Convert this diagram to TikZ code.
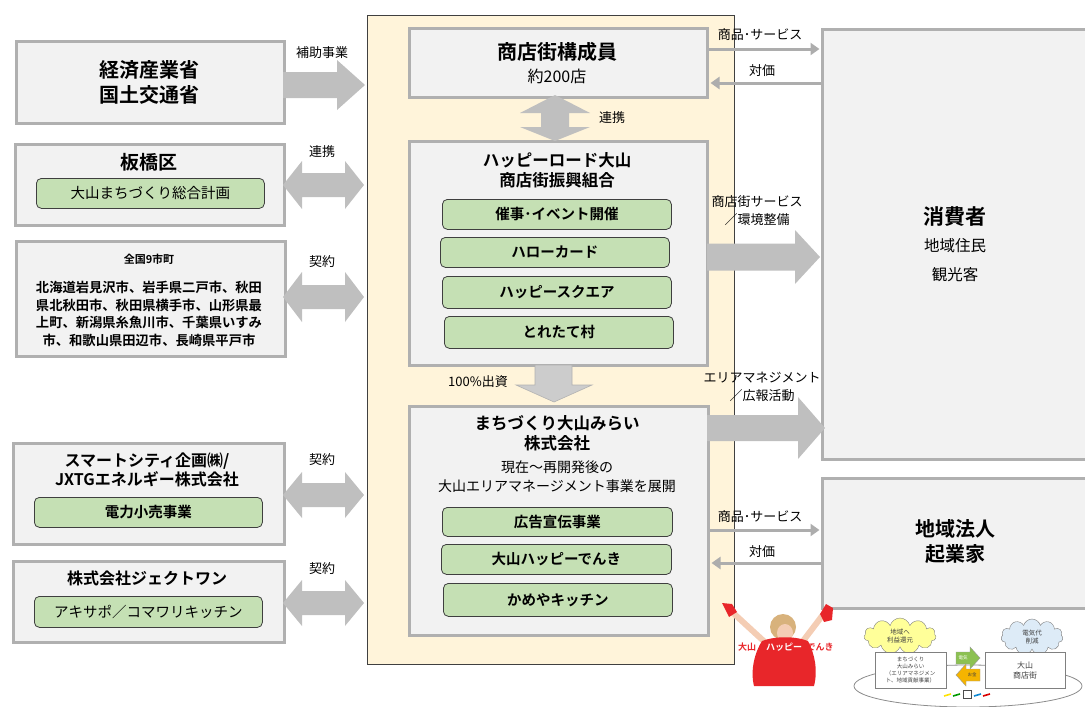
\documentclass[tikz,border=0pt]{standalone}
\usepackage{fontspec}
\setmainfont{Noto Sans CJK JP}[BoldFont={Noto Sans CJK JP Bold}]
\usetikzlibrary{arrows.meta,shapes.symbols,calc}

\definecolor{boxfill}{HTML}{F2F2F2}
\definecolor{boxline}{HTML}{B0B0B0}
\definecolor{cream}{HTML}{FFF4DA}
\definecolor{creamline}{HTML}{404040}
\definecolor{greenfill}{HTML}{C5E0B4}
\definecolor{greenline}{HTML}{3F3F3F}
\definecolor{arrowgray}{HTML}{BFBFBF}
\definecolor{linegray}{HTML}{ADADAD}
\definecolor{happyred}{HTML}{E8262A}
\definecolor{skin}{HTML}{F4CDB4}
\definecolor{hair}{HTML}{D8B27C}
\definecolor{cloudyellow}{HTML}{FFFF99}
\definecolor{cloudblue}{HTML}{DDEBF7}
\definecolor{elecgreen}{HTML}{8CC152}
\definecolor{moneyorange}{HTML}{F5B400}

% box from its top-left corner (x1,y1) to its bottom-right corner (x2,y2)
\newcommand{\cornerbox}[7]{%
  \node[#1, anchor=north west, minimum width={#5pt-#3pt}, minimum height={#6pt-#4pt}] (#2) at (#3,#4) {#7};}
% right-pointing block arrow: tail x, head base x, tip x, centre y, shaft half, head half
\newcommand{\rblock}[6]{%
  \fill[blockarrow] (#1,#4-#5) -- (#2,#4-#5) -- (#2,#4-#6) -- (#3,#4) -- (#2,#4+#6) -- (#2,#4+#5) -- (#1,#4+#5) -- cycle;}
% two-headed horizontal block arrow: left tip, left base, right base, right tip, y, shaft half, head half
\newcommand{\hdblock}[7]{%
  \fill[blockarrow] (#1,#5) -- (#2,#5-#7) -- (#2,#5-#6) -- (#3,#5-#6) -- (#3,#5-#7) -- (#4,#5)
    -- (#3,#5+#7) -- (#3,#5+#6) -- (#2,#5+#6) -- (#2,#5+#7) -- cycle;}

\tikzset{
  graybox/.style={draw=boxline, line width=3pt, fill=boxfill, inner sep=0pt},
  greenbox/.style={draw=greenline, line width=0.8pt, fill=greenfill, rounded corners=5pt,
    inner sep=0pt, font=\fontsize{14.5}{16}\selectfont\bfseries},
  greenreg/.style={greenbox, font=\fontsize{14.5}{16}\selectfont},
  bigtitle/.style={align=center, inner sep=0pt, font=\fontsize{20}{25}\selectfont\bfseries},
  midtitle/.style={align=center, inner sep=0pt, font=\fontsize{16.5}{20}\selectfont\bfseries},
  bodytext/.style={align=center, inner sep=0pt, font=\fontsize{15.5}{20}\selectfont},
  label/.style={align=center, inner sep=0pt, font=\fontsize{13}{18}\selectfont},
  blockarrow/.style={fill=arrowgray},
  thinarrow/.style={draw=linegray, line width=3pt, -{Triangle[length=9pt,width=12pt]}},
  tiny/.style={align=center, inner sep=0pt, font=\fontsize{6.5}{7.5}\selectfont, text=black!75},
}

\begin{document}
\begin{tikzpicture}[x=1pt, y=-1pt]
\useasboundingbox (0,0) rectangle (1085,707);

% ---------- central organisation panel ----------
\cornerbox{draw=creamline, line width=1.2pt, fill=cream, inner sep=0pt}{panel}{367}{15}{734}{664}{}

\cornerbox{graybox}{members}{408}{27}{706}{96}{}
\node[bigtitle] (membersT) at (557,52) {商店街構成員};
\node[bodytext, font=\fontsize{16}{20}\selectfont] (membersN) at (557,76) {約200店};

\cornerbox{graybox}{union}{408}{140}{706}{364}{}
\node[midtitle] (unionT) at (557,170) {ハッピーロード大山\\商店街振興組合};
\cornerbox{greenbox}{u1}{442}{199}{671}{229}{催事･イベント開催}
\cornerbox{greenbox}{u2}{440}{237}{669}{267}{ハローカード}
\cornerbox{greenbox}{u3}{442}{276}{671}{308}{ハッピースクエア}
\cornerbox{greenbox}{u4}{444}{316}{673}{348}{とれたて村}

\cornerbox{graybox}{mirai}{408}{405}{707}{634}{}
\node[midtitle] (miraiT) at (557,433) {まちづくり大山みらい\\株式会社};
\node[bodytext, font=\fontsize{14}{19}\selectfont] (miraiD) at (557,477) {現在〜再開発後の\\大山エリアマネージメント事業を展開};
\cornerbox{greenbox}{m1}{442}{507}{672}{536}{広告宣伝事業}
\cornerbox{greenbox}{m2}{441}{544}{671}{574}{大山ハッピーでんき}
\cornerbox{greenbox}{m3}{443}{583}{672}{616}{かめやキッチン}

% link between members and union
\fill[blockarrow] (555,95) -- (590,113) -- (569,113) -- (569,127) -- (590,127) -- (555,141)
  -- (520,127) -- (541,127) -- (541,113) -- (520,113) -- cycle;
\node[label] (linkC) at (612,118) {連携};

% investment arrow from union down to mirai
\filldraw[fill=black!20, draw=black!30, line width=0.6pt] (535,365) -- (572,365) -- (572,385) -- (592,385)
  -- (554,402) -- (516,385) -- (535,385) -- cycle;
\node[label] (invest) at (478,382) {100\%出資};

% ---------- left-hand partners ----------
\cornerbox{graybox}{gov}{15}{40}{283}{122}{}
\node[bigtitle] (govT) at (149,82) {経済産業省\\国土交通省};

\cornerbox{graybox}{itabashi}{14}{143}{283}{224}{}
\node[bigtitle, font=\fontsize{19}{22}\selectfont\bfseries] (itaT) at (149,162) {板橋区};
\cornerbox{greenreg}{plan}{36}{178}{264}{208}{大山まちづくり総合計画}

\cornerbox{graybox}{towns}{15}{240}{284}{355}{}
\node[label, font=\fontsize{11}{13}\selectfont\bfseries] (townsT) at (149,259) {全国9市町};
\node[label, font=\fontsize{13.3}{17.8}\selectfont\bfseries] (townsL) at (149,314)
  {北海道岩見沢市、岩手県二戸市、秋田\\県北秋田市、秋田県横手市、山形県最\\上町、新潟県糸魚川市、千葉県いすみ\\市、和歌山県田辺市、長崎県平戸市};

\cornerbox{graybox}{smart}{12}{442}{283}{543}{}
\node[midtitle, font=\fontsize{16}{19.5}\selectfont\bfseries] (smartT) at (147,470) {スマートシティ企画㈱/\\JXTGエネルギー株式会社};
\cornerbox{greenbox}{power}{34}{497}{262}{527}{電力小売事業}

\cornerbox{graybox}{ject}{12}{560}{283}{641}{}
\node[midtitle, font=\fontsize{16}{19.5}\selectfont\bfseries] (jectT) at (147,578) {株式会社ジェクトワン};
\cornerbox{greenreg}{akisapo}{34}{596}{262}{627}{アキサポ／コマワリキッチン}

% arrows between partners and the panel
\rblock{283}{337}{365}{85}{13}{25}
\node[label] (subsidy) at (322,53) {補助事業};
\hdblock{283}{302}{345}{364}{185}{12}{24}
\node[label] (linkI) at (322,152) {連携};
\hdblock{283}{302}{345}{364}{297}{12}{25}
\node[label] (contract1) at (322,262) {契約};
\hdblock{283}{302}{345}{364}{495}{12}{23}
\node[label] (contract2) at (322,460) {契約};
\hdblock{283}{302}{345}{364}{603}{12}{23}
\node[label] (contract3) at (322,569) {契約};

% ---------- right-hand counterparts ----------
\cornerbox{graybox}{consumer}{821}{28}{1095}{458}{}
\node[bigtitle, font=\fontsize{21}{25}\selectfont\bfseries] (consT) at (955,217) {消費者};
\node[bodytext] (consA) at (955,246) {地域住民};
\node[bodytext] (consB) at (955,275) {観光客};

\cornerbox{graybox}{corp}{821}{477}{1095}{607}{}
\node[bigtitle] (corpT) at (955,542) {地域法人\\起業家};

\draw[thinarrow, shorten >=1.5pt] (members.east |- 0,49) -- (consumer.west |- 0,49);
\node[label] (goodsA) at (760,35) {商品･サービス};
\draw[thinarrow, shorten >=1.5pt] (consumer.west |- 0,83) -- (members.east |- 0,83);
\node[label] (payA) at (762,71) {対価};

\rblock{707}{795}{820}{257}{13.5}{27}
\node[label] (service) at (757,211) {商店街サービス\\／環境整備};
\rblock{707}{798}{825}{428}{13}{31}
\node[label] (areaMgmt) at (762,387) {エリアマネジメント\\／広報活動};

\draw[thinarrow, shorten >=1.5pt] (mirai.east |- 0,530) -- (corp.west |- 0,530);
\node[label] (goodsB) at (760,517) {商品･サービス};
\draw[thinarrow, shorten >=1.5pt] (corp.west |- 0,563) -- (mirai.east |- 0,563);
\node[label] (payB) at (762,552) {対価};

% ---------- mascot figure ----------
\draw[skin, line width=6pt, line cap=round] (768,645) -- (731,611);
\draw[skin, line width=6pt, line cap=round] (800,645) -- (822,616);
\fill[happyred] (722,603) -- (732,604) -- (737,612) -- (729,617) -- cycle;
\fill[happyred] (820,614) -- (826,604) -- (833,608) -- (832,620) -- (824,622) -- cycle;
\fill[hair] (783,627) circle (13);
\fill[skin] (785,633) ellipse (8 and 9);
\fill[happyred] (762,641) .. controls (775,636) and (795,636) .. (808,641)
  .. controls (815,655) and (818,670) .. (814,686) -- (754,686)
  .. controls (750,670) and (755,652) .. (762,641) -- cycle;
\node[inner sep=0pt, text=happyred, font=\fontsize{9}{10}\selectfont\bfseries] (mascotA) at (747,647) {大山};
\node[inner sep=0pt, text=white, font=\fontsize{9}{10}\selectfont\bfseries] (mascotB) at (784,647) {ハッピー};
\node[inner sep=0pt, text=happyred, font=\fontsize{9}{10}\selectfont\bfseries] (mascotC) at (820,647) {でんき};

% ---------- energy scheme sketch ----------
\draw[black!45, line width=0.8pt] (968,686) ellipse (114 and 21);
\node[cloud, cloud puffs=11, aspect=2.2, draw=black!50, fill=cloudyellow, minimum width=72pt, minimum height=36pt,
  inner sep=0pt] (cloudA) at (900,636) {};
\node[tiny] (cloudAT) at (900,636) {地域へ\\利益還元};
\node[cloud, cloud puffs=11, aspect=1.8, draw=black!50, fill=cloudblue, minimum width=62pt, minimum height=36pt,
  inner sep=0pt] (cloudB) at (1032,637) {};
\node[tiny] (cloudBT) at (1032,637) {電気代\\削減};
\cornerbox{draw=black!50, line width=0.8pt, fill=white, inner sep=0pt}{schemeL}{875}{652}{946}{688}{}
\node[tiny, font=\fontsize{5.5}{6.8}\selectfont] (schemeLT) at (910.5,670) {まちづくり\\大山みらい\\（エリアマネジメン\\ト、地域貢献事業）};
\cornerbox{draw=black!50, line width=0.8pt, fill=white, inner sep=0pt}{schemeR}{985}{652}{1065}{688}{}
\node[tiny, font=\fontsize{8}{10}\selectfont] (schemeRT) at (1025,670) {大山\\商店街};
\filldraw[fill=elecgreen, draw=black!40, line width=0.4pt] (956,652) -- (970,652) -- (970,647) -- (980,658)
  -- (970,669) -- (970,664) -- (956,664) -- cycle;
\node[tiny, text=white, font=\fontsize{4.5}{5}\selectfont] (elec) at (963,658) {電気};
\filldraw[fill=moneyorange, draw=black!40, line width=0.4pt] (980,669) -- (966,669) -- (966,664) -- (956,675)
  -- (966,686) -- (966,681) -- (980,681) -- cycle;
\node[tiny, font=\fontsize{4.5}{5}\selectfont] (money) at (972,675) {お金};
\draw[line width=1.6pt, yellow!85!orange] (944,696) -- (951,694);
\draw[line width=1.6pt, green!60!black] (953,696) -- (960,694);
\draw[line width=0.9pt, black!70] (963,690) rectangle (971,698);
\draw[line width=1.6pt, cyan!70!blue] (974,696) -- (981,694);
\draw[line width=1.6pt, red!85!black] (983,696) -- (990,694);
\end{tikzpicture}
\end{document}
